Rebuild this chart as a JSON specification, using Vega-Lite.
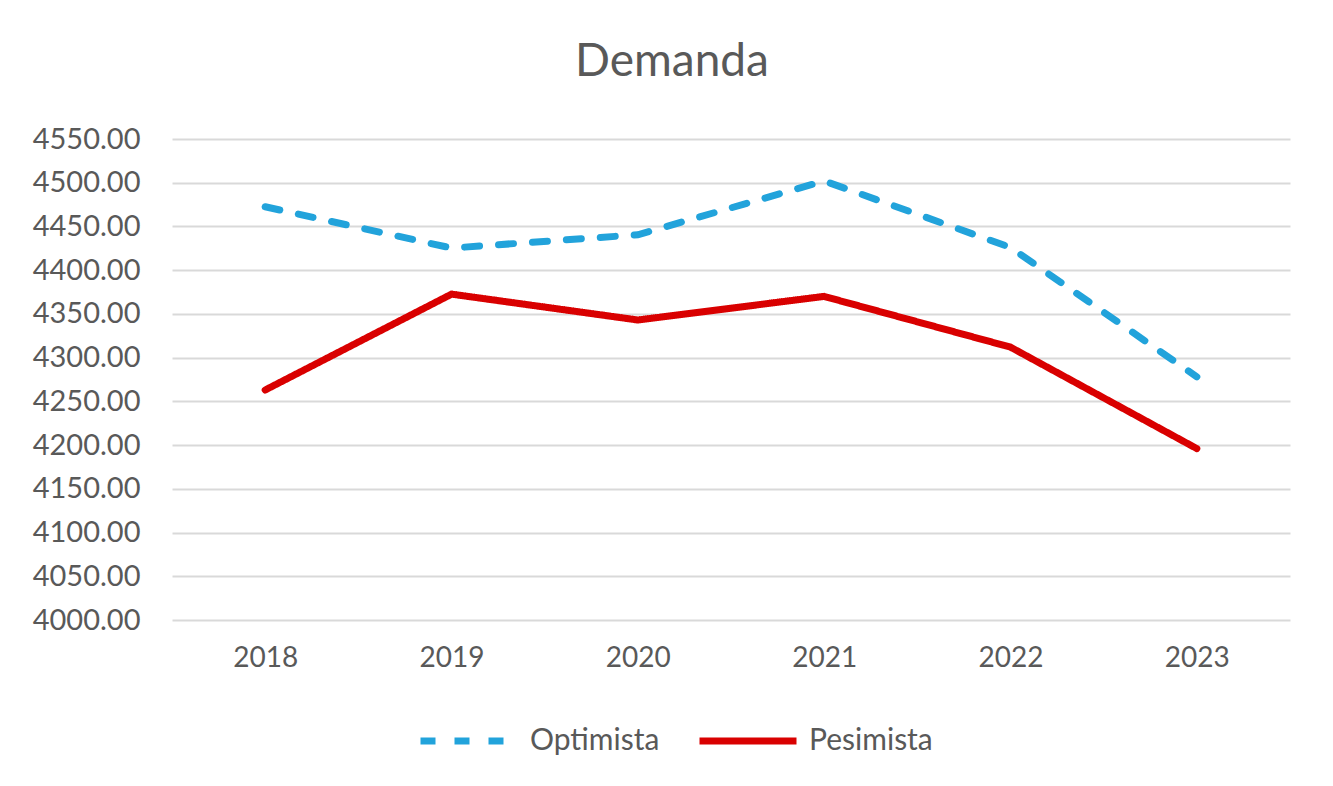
{
  "$schema": "https://vega.github.io/schema/vega-lite/v6.json",
  "autosize": "none",
  "width": 1118,
  "height": 481,
  "padding": {"left": 172, "top": 139, "right": 43, "bottom": 166},
  "background": "white",
  "title": {
    "text": "Demanda",
    "font": "Lato",
    "fontSize": 46,
    "fontWeight": "normal",
    "color": "#595959",
    "anchor": "middle",
    "offset": 39,
    "dx": -59
  },
  "data": {
    "values": [
      {"year": "2018", "series": "Optimista", "value": 4472.5},
      {"year": "2019", "series": "Optimista", "value": 4425.3},
      {"year": "2020", "series": "Optimista", "value": 4440.5},
      {"year": "2021", "series": "Optimista", "value": 4502.0},
      {"year": "2022", "series": "Optimista", "value": 4426.0},
      {"year": "2023", "series": "Optimista", "value": 4278.0},
      {"year": "2018", "series": "Pesimista", "value": 4263.0},
      {"year": "2019", "series": "Pesimista", "value": 4372.6},
      {"year": "2020", "series": "Pesimista", "value": 4343.0},
      {"year": "2021", "series": "Pesimista", "value": 4370.0},
      {"year": "2022", "series": "Pesimista", "value": 4312.0},
      {"year": "2023", "series": "Pesimista", "value": 4196.0}
    ]
  },
  "mark": {"type": "line", "strokeWidth": 7, "strokeCap": "round"},
  "encoding": {
    "x": {
      "field": "year",
      "type": "ordinal",
      "title": null,
      "scale": {"type": "point", "padding": 0.5},
      "axis": {
        "labelAngle": 0,
        "labelFont": "Lato",
        "labelFontSize": 28,
        "labelColor": "#595959",
        "labelPadding": 24,
        "domain": false,
        "ticks": false,
        "grid": false
      }
    },
    "y": {
      "field": "value",
      "type": "quantitative",
      "title": null,
      "scale": {"domain": [4000, 4550], "nice": false, "zero": false},
      "axis": {
        "values": [4000, 4050, 4100, 4150, 4200, 4250, 4300, 4350, 4400, 4450, 4500, 4550],
        "format": ".2f",
        "labelFont": "Lato",
        "labelFontSize": 29,
        "labelColor": "#595959",
        "labelPadding": 32,
        "domain": false,
        "ticks": false,
        "grid": true,
        "gridColor": "#D9D9D9",
        "gridWidth": 2
      }
    },
    "color": {
      "field": "series",
      "type": "nominal",
      "title": null,
      "scale": {"domain": ["Optimista", "Pesimista"], "range": ["#22A3DB", "#D90000"]},
      "legend": {
        "orient": "none",
        "legendX": 245,
        "legendY": 550,
        "direction": "horizontal",
        "symbolType": "stroke",
        "symbolSize": 9409,
        "symbolStrokeWidth": 7,
        "labelFont": "Lato",
        "labelFontSize": 30,
        "labelColor": "#595959",
        "labelOffset": 9,
        "columnPadding": 25
      }
    },
    "strokeDash": {
      "field": "series",
      "type": "nominal",
      "title": null,
      "scale": {"domain": ["Optimista", "Pesimista"], "range": [[15, 19], [1, 0]]},
      "legend": {
        "orient": "none",
        "legendX": 245,
        "legendY": 550,
        "direction": "horizontal",
        "symbolType": "stroke",
        "symbolSize": 9409,
        "symbolStrokeWidth": 7,
        "labelFont": "Lato",
        "labelFontSize": 30,
        "labelColor": "#595959",
        "labelOffset": 9,
        "columnPadding": 25
      }
    }
  },
  "config": {"view": {"stroke": null}}
}
